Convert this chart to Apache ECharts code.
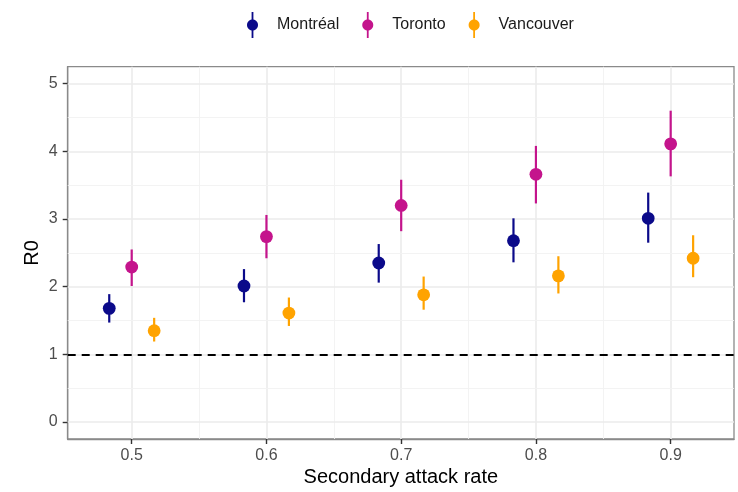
<!DOCTYPE html>
<html>
<head>
<meta charset="utf-8">
<script src="https://cdn.jsdelivr.net/npm/echarts@6/dist/echarts.min.js"></script>
<style>
html,body{margin:0;padding:0;background:#fff;}
#chart{width:738px;height:492px;}
</style>
</head>
<body>
<div id="chart"></div>
<script>
// ---- data ----
const cities = ['Montréal', 'Toronto', 'Vancouver'];
const attackRates = [0.5, 0.6, 0.7, 0.8, 0.9];
const xTicks = [0.5, 0.6, 0.7, 0.8, 0.9];
const yTicks = [0, 1, 2, 3, 4, 5];
const xMinor = [0.55, 0.65, 0.75, 0.85];
const yMinor = [0.5, 1.5, 2.5, 3.5, 4.5];

const montrealR0  = [1.68, 2.01, 2.35, 2.68, 3.01];
const montrealLow = [1.47, 1.77, 2.06, 2.36, 2.65];
const montrealHigh= [1.89, 2.26, 2.63, 3.01, 3.39];

const torontoR0   = [2.29, 2.74, 3.20, 3.66, 4.11];
const torontoLow  = [2.01, 2.42, 2.82, 3.23, 3.63];
const torontoHigh = [2.55, 3.06, 3.58, 4.08, 4.60];

const vancouverR0   = [1.35, 1.61, 1.88, 2.16, 2.42];
const vancouverLow  = [1.19, 1.42, 1.66, 1.90, 2.14];
const vancouverHigh = [1.54, 1.84, 2.15, 2.45, 2.76];

const thresholdR0 = 1;

// ---- styling ----
const colors = ['#0B0A8A', '#C4148C', '#FFA300'];
const dodge = 0.05 / 3; // position dodge between the three cities
const FONT = "'Liberation Sans', Arial, sans-serif";

function build(vals, lo, hi, k) {
  return attackRates.map((x, i) => [x + (k - 1) * dodge, vals[i], lo[i], hi[i]]);
}
const seriesData = [
  build(montrealR0, montrealLow, montrealHigh, 0),
  build(torontoR0, torontoLow, torontoHigh, 1),
  build(vancouverR0, vancouverLow, vancouverHigh, 2)
];

function renderItem(params, api) {
  const x = api.value(0), y = api.value(1), lo = api.value(2), hi = api.value(3);
  const p = api.coord([x, y]);
  const a = api.coord([x, lo]);
  const b = api.coord([x, hi]);
  const color = api.visual('color');
  return {
    type: 'group',
    children: [
      { type: 'line', shape: { x1: a[0], y1: a[1], x2: b[0], y2: b[1] },
        style: { stroke: color, lineWidth: 2.2 } },
      { type: 'circle', shape: { cx: p[0], cy: p[1], r: 6.4 },
        style: { fill: color } }
    ]
  };
}

// legend icon: vertical line with a dot (polygonal circle keeps the bbox exact)
function legendIconPath() {
  const cx = 6, cy = 13, r = 5.5, n = 36;
  let d = 'path://M5.1,0L6.9,0L6.9,26L5.1,26Z M';
  for (let i = 0; i < n; i++) {
    const t = (i / n) * Math.PI * 2;
    d += (i ? 'L' : '') + (cx + r * Math.cos(t)).toFixed(3) + ',' + (cy + r * Math.sin(t)).toFixed(3);
  }
  return d + 'Z';
}
const icon = legendIconPath();

const gridLines = []
  .concat(xTicks.map(v => ({ xAxis: v, lineStyle: { color: '#EBEBEB', width: 1.6, type: 'solid' } })))
  .concat(xMinor.map(v => ({ xAxis: v, lineStyle: { color: '#F2F2F2', width: 0.9, type: 'solid' } })))
  .concat(yTicks.map(v => ({ yAxis: v, lineStyle: { color: '#EBEBEB', width: 1.6, type: 'solid' } })))
  .concat(yMinor.map(v => ({ yAxis: v, lineStyle: { color: '#F2F2F2', width: 0.9, type: 'solid' } })));

const chart = echarts.init(document.getElementById('chart'), null, { renderer: 'canvas' });

const option = {
  backgroundColor: '#fff',
  animation: false,
  textStyle: { fontFamily: FONT },
  legend: {
    left: 242,
    top: 7,
    itemWidth: 11,
    itemHeight: 26,
    itemGap: 23,
    symbolKeepAspect: true,
    selectedMode: false,
    textStyle: { fontFamily: FONT, fontSize: 16, color: '#1a1a1a', padding: [0, 0, 0, 14] },
    data: cities.map((c, i) => ({ name: c, icon: icon, itemStyle: { color: colors[i], borderWidth: 0 } }))
  },
  grid: {
    left: 67.7, right: 4, top: 66.7, bottom: 51.3,
    show: true, borderColor: '#8A8A8A', borderWidth: 1.3, backgroundColor: 'transparent',
    containLabel: false
  },
  xAxis: {
    type: 'value',
    min: 0.4525, max: 0.947,
    name: 'Secondary attack rate',
    nameLocation: 'middle',
    nameGap: 28,
    nameMoveOverlap: false,
    nameTextStyle: { fontFamily: FONT, fontSize: 20, color: '#000' },
    axisLine: { show: true, onZero: false, lineStyle: { color: '#8A8A8A', width: 1.3 } },
    axisTick: { show: true, inside: false, customValues: xTicks, length: 5, lineStyle: { color: '#333', width: 1.4 } },
    axisLabel: { customValues: xTicks, margin: 9, fontFamily: FONT, fontSize: 16, color: '#4D4D4D',
      formatter: v => v.toFixed(1) },
    splitLine: { show: false }
  },
  yAxis: {
    type: 'value',
    min: -0.25, max: 5.25,
    name: 'R0',
    nameLocation: 'middle',
    nameGap: 25,
    nameMoveOverlap: false,
    nameTextStyle: { fontFamily: FONT, fontSize: 20, color: '#000' },
    axisLine: { show: true, onZero: false, lineStyle: { color: '#8A8A8A', width: 1.3 } },
    axisTick: { show: true, inside: false, customValues: yTicks, length: 5, lineStyle: { color: '#333', width: 1.4 } },
    axisLabel: { customValues: yTicks, margin: 10, fontFamily: FONT, fontSize: 16, color: '#4D4D4D' },
    splitLine: { show: false }
  },
  series: [
    {
      type: 'line', data: [], silent: true, z: 1,
      markLine: { silent: true, symbol: ['none', 'none'], label: { show: false }, animation: false,
        data: gridLines }
    },
    {
      type: 'line', data: [], silent: true, z: 3,
      markLine: { silent: true, symbol: ['none', 'none'], label: { show: false }, animation: false,
        data: [{ yAxis: thresholdR0, lineStyle: { color: '#000', width: 2, type: [8, 6] } }] }
    }
  ].concat(cities.map((c, i) => ({
    name: c,
    type: 'custom',
    z: 5,
    renderItem: renderItem,
    itemStyle: { color: colors[i] },
    encode: { x: 0, y: [1, 2, 3] },
    data: seriesData[i]
  })))
};

chart.setOption(option);
</script>
</body>
</html>
